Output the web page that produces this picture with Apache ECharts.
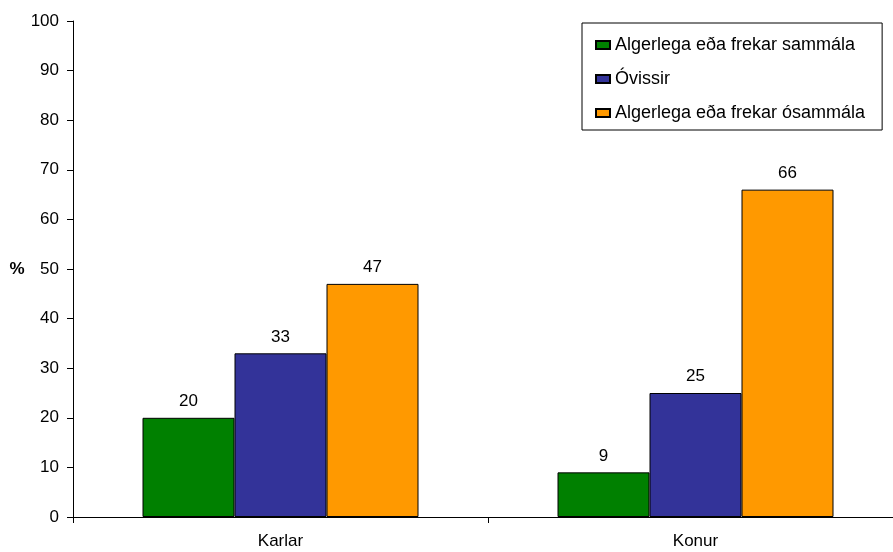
<!DOCTYPE html>
<html><head><meta charset="utf-8">
<script src="https://cdn.jsdelivr.net/npm/echarts@6/dist/echarts.min.js"></script>
<style>html,body{margin:0;padding:0;background:#fff;overflow:hidden}#c{width:903px;height:552px}</style>
</head><body><div id="c"></div>
<script>
var categories = ["Karlar", "Konur"];
var seriesNames = ["Algerlega eða frekar sammála", "Óvissir", "Algerlega eða frekar ósammála"];
var agree = [20, 9];
var unsure = [33, 25];
var disagree = [47, 66];
var colors = ["#008000", "#333399", "#FF9900"];
var values = [agree, unsure, disagree];

var chart = echarts.init(document.getElementById('c'));
var font = "'Liberation Sans', Arial, sans-serif";
chart.setOption({
  animation: false,
  textStyle: {fontFamily: font},
  grid: {left: 73, top: 21, bottom: 35, right: 0},
  legend: {
    orient: 'vertical', left: 582, top: 23,
    borderColor: '#000', borderWidth: 1,
    padding: [13, 17, 8, 13], itemGap: 16,
    itemWidth: 14, itemHeight: 8,
    textStyle: {fontSize: 18, color: '#000', fontFamily: font},
    data: seriesNames.map(function(n){return {name: n, icon: 'rect'};})
  },
  xAxis: {
    type: 'category', data: categories,
    axisLine: {lineStyle: {color: '#000', width: 1}},
    axisTick: {show: true, length: 6, lineStyle: {color: '#000'}},
    axisLabel: {color: '#000', fontSize: 17, margin: 16, fontFamily: font}
  },
  yAxis: {
    type: 'value', min: 0, max: 100, interval: 10,
    name: '%', nameLocation: 'middle', nameRotate: 0, nameGap: 48,
    nameTextStyle: {fontWeight: 'bold', fontSize: 17, color: '#000', fontFamily: font},
    axisLine: {show: true, lineStyle: {color: '#000', width: 1}},
    axisTick: {show: true, length: 6, inside: false, lineStyle: {color: '#000'}},
    axisLabel: {color: '#000', fontSize: 17, margin: 14, fontFamily: font},
    splitLine: {show: false}
  },
  series: seriesNames.map(function(n, i){
    return {
      name: n, type: 'bar', data: values[i],
      barWidth: 92, barGap: '0%',
      itemStyle: {color: colors[i], borderColor: '#000', borderWidth: 1},
      label: {show: true, position: 'top', distance: 8, color: '#000', fontSize: 17, fontFamily: font}
    };
  })
});
</script></body></html>
